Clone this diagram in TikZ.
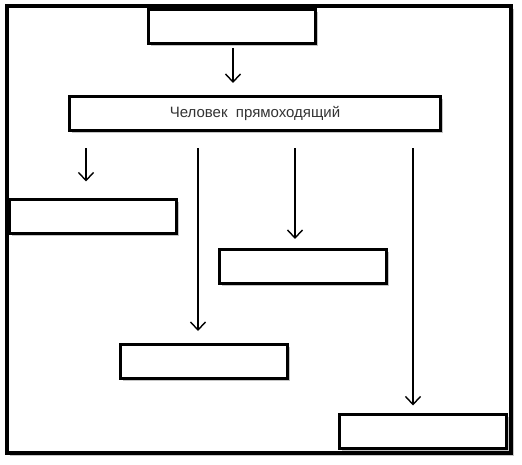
\documentclass[tikz,border=0pt]{standalone}
\usepackage{fontspec}
\setmainfont{Liberation Sans}
\usetikzlibrary{arrows.meta,shadows}

\begin{document}
\begin{tikzpicture}[x=1pt, y=-1pt, font=\fontsize{15}{18}\selectfont]
\tikzset{
  box/.style={rectangle, draw=black, line width=3pt, fill=white, minimum width=167pt, minimum height=34pt, inner sep=0pt,
    drop shadow={shadow xshift=2.5pt, shadow yshift=-2.5pt, opacity=0.45, fill=gray}},
  arr/.style={-{Straight Barb[length=8pt, width=15pt]}, line width=1.4pt},
}
\useasboundingbox (0,0) rectangle (522,465);
% outer frame
\draw[line width=4pt, fill=white, drop shadow={shadow xshift=3pt, shadow yshift=-3pt, opacity=0.45, fill=gray}] (6.5,6.5) rectangle (510.5,452.5);
\node[box] (top) at (232,26.5) {};
\node[box, minimum width=371pt, text=black!80] (main) at (255,113.5) {Человек\ \ прямоходящий};
\node[box] (b1) at (93,217) {};
\node[box] (b2) at (203.5,361.5) {};
\node[box] (b3) at (302.5,266.5) {};
\node[box] (b4) at (422.5,431) {};
\draw[arr, shorten <=3pt, shorten >=12pt] ([xshift=1pt]top.south) -- ([xshift=1pt]top.south |- main.north);
\foreach \x/\t/\gap in {86/b1/17, 198/b2/12, 295/b3/9, 413/b4/7} {
  \coordinate (s\t) at (\x,0);
  \draw[arr, shorten <=16.5pt, shorten >=\gap pt] (s\t |- main.south) -- (s\t |- \t.north);
}
\end{tikzpicture}
\end{document}
